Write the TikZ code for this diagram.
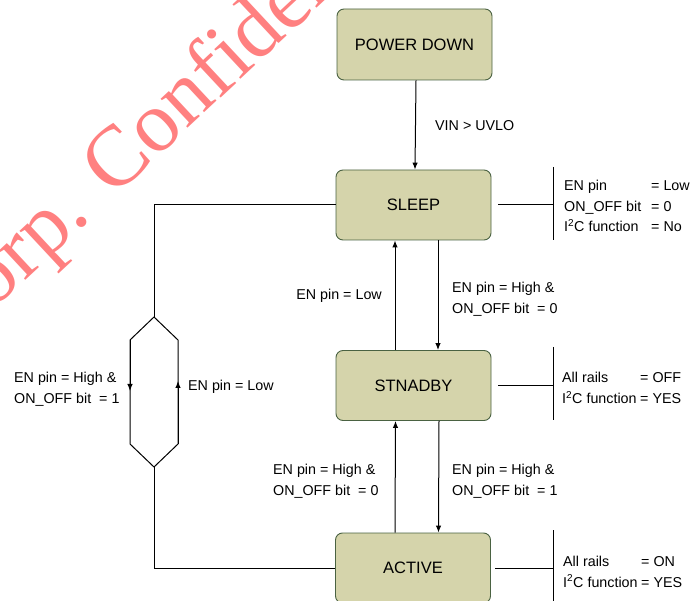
\documentclass[tikz,border=0pt]{standalone}
\usepackage{fontspec}
\setmainfont{Liberation Sans}
\newfontfamily\wmfont{Liberation Serif}
\usetikzlibrary{arrows.meta}
\definecolor{boxfill}{RGB}{213,212,171}
\definecolor{boxdraw}{RGB}{74,98,66}
\definecolor{wmred}{RGB}{255,128,128}
\begin{document}
\begin{tikzpicture}[x=1pt,y=-1pt,
  state/.style={draw=boxdraw, fill=boxfill, line width=0.9pt, rounded corners=7pt,
    minimum width=155pt, minimum height=70pt, inner sep=0pt,
    font=\fontsize{16.5}{19}\selectfont},
  lbl/.style={inner sep=0pt, align=left, font=\fontsize{14.3}{20.8}\selectfont},
  conn/.style={line width=1pt, draw=black},
  arr/.style={conn, -{Latex[length=7pt,width=5.5pt]}},
  wmark/.style={anchor=base west, rotate=43, inner sep=0pt, text=wmred,
    font=\wmfont\fontsize{86}{90}\selectfont}
]
\useasboundingbox (0,0) rectangle (691,601);
\clip (0,0) rectangle (691,601);

% watermark
\node[wmark] (wm) at (-49.3,349.9) {Corp. Confidential};

% states
\node[state, minimum height=71pt] (pd) at (414.5,44.5) {POWER DOWN};
\node[state] (sleep) at (413.5,205) {SLEEP};
\node[state] (stby) at (413.5,385.5) {STNADBY};
\node[state] (act) at (413,568) {ACTIVE};

% vertical transitions
\draw[arr] ([xshift=1.5pt]pd.south) -- ([xshift=1.5pt]sleep.north);
\draw[arr] ([xshift=-18.5pt]stby.north) -- ([xshift=-18.5pt]sleep.south);
\draw[arr] ([xshift=24.5pt]sleep.south) -- ([xshift=24.5pt]stby.north);
\draw[arr] ([xshift=-18pt]act.north) -- ([xshift=-18pt]stby.south);
\draw[arr] ([xshift=25.5pt]stby.south) -- ([xshift=25.5pt]act.north);

% transition labels
\node[lbl, anchor=west] (l1) at (435,126) {VIN > UVLO};
\node[lbl, anchor=east] (l2) at (382,296) {EN pin = Low};
\node[lbl, anchor=west] (l3) at (452,299) {EN pin = High \&\\ON\_OFF bit\ \ = 0};
\node[lbl, anchor=west] (l4) at (273,481.5) {EN pin = High \&\\ON\_OFF bit\ \ = 0};
\node[lbl, anchor=west] (l5) at (452,481.5) {EN pin = High \&\\ON\_OFF bit\ \ = 1};
\node[lbl, anchor=west] (l6) at (14,389) {EN pin = High \&\\ON\_OFF bit\ \ = 1};
\node[lbl, anchor=west] (l7) at (188,387) {EN pin = Low};

% left loop with hexagon
\coordinate (ht) at (154,317);
\coordinate (htr) at (178,340);
\coordinate (hbr) at (178,444);
\coordinate (hb) at (154,467);
\coordinate (hbl) at (130,444);
\coordinate (htl) at (130,340);
\coordinate (hlm) at (130,391);
\coordinate (hrm) at (178,381);
\draw[conn] (ht) -- (htr) -- (hbr) -- (hb) -- (hbl) -- (htl) -- cycle;
\draw[arr] (htl) -- (hlm);
\draw[arr] (hbr) -- (hrm);
\draw[conn] (sleep.west) -| (ht);
\draw[conn] (hb) |- (act.west);

% side notes
\coordinate (b1t) at (553,167);
\coordinate (b1b) at (553,240);
\coordinate (b2t) at (553,347);
\coordinate (b2b) at (553,420);
\coordinate (b3t) at (553,530);
\coordinate (b3b) at (553,606);
\draw[conn] (b1t) -- (b1b);
\draw[conn] (b2t) -- (b2b);
\draw[conn] (b3t) -- (b3b);
\draw[conn] ([xshift=7pt]sleep.east) -- (sleep.east -| b1t);
\draw[conn] ([xshift=7pt]stby.east) -- (stby.east -| b2t);
\draw[conn] ([xshift=4.5pt]act.east) -- (act.east -| b3t);

\node[lbl, anchor=west] (n1) at (564,206)
  {\makebox[87pt][l]{EN pin}= Low\\\makebox[87pt][l]{ON\_OFF bit}= 0\\\makebox[87pt][l]{I\textsuperscript{2}C function}= No};
\node[lbl, anchor=west] (n2) at (562,388)
  {\makebox[78pt][l]{All rails}= OFF\\\makebox[78pt][l]{I\textsuperscript{2}C function}= YES};
\node[lbl, anchor=west] (n3) at (563,571.5)
  {\makebox[78pt][l]{All rails}= ON\\\makebox[78pt][l]{I\textsuperscript{2}C function}= YES};
\end{tikzpicture}
\end{document}
